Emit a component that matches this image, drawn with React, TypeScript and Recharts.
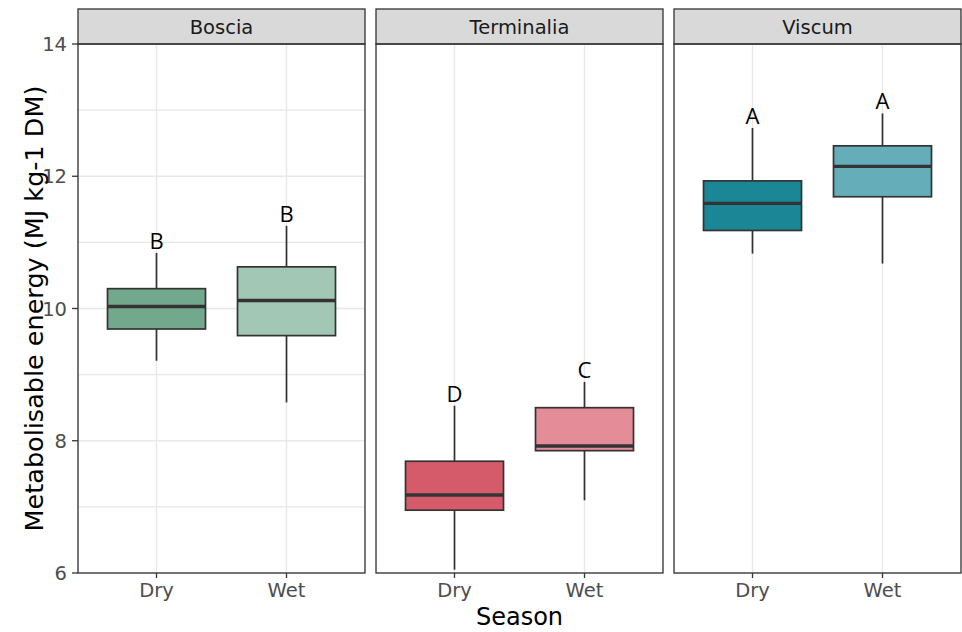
import React from "react";
import { ComposedChart, Bar, XAxis, YAxis, CartesianGrid } from "recharts";

const species = ["Boscia", "Terminalia", "Viscum"];
const seasons = ["Dry", "Wet"];
// one row per species, [Dry, Wet]
const whiskerLow = [[9.21, 8.58], [6.05, 7.1], [10.83, 10.68]];
const lowerQuartile = [[9.69, 9.59], [6.95, 7.85], [11.18, 11.69]];
const medians = [[10.03, 10.12], [7.18, 7.92], [11.59, 12.15]];
const upperQuartile = [[10.3, 10.63], [7.69, 8.5], [11.93, 12.46]];
const whiskerHigh = [[10.84, 11.25], [8.53, 8.89], [12.73, 12.95]];
const letters = [["B", "B"], ["D", "C"], ["A", "A"]];
const yTicks = [6, 7, 8, 9, 10, 11, 12, 13, 14];

const fills = [
  ["#72A98C", "#A3C7B5"],
  ["#D65B6A", "#E48D99"],
  ["#1A8696", "#65AEB9"],
];

const W = 962;
const H = 632;
const PANEL_LEFT = [78, 376, 674];
const PANEL_W = 287;
const PANEL_TOP = 44;
const PANEL_BOTTOM = 573;
const STRIP_TOP = 9;
const FONT = "DejaVu Sans";

const buildRows = (s: number) =>
  seasons.map((season, j) => ({
    season,
    range: [whiskerLow[s][j], whiskerHigh[s][j]],
    lo: whiskerLow[s][j],
    q1: lowerQuartile[s][j],
    med: medians[s][j],
    q3: upperQuartile[s][j],
    hi: whiskerHigh[s][j],
    letter: letters[s][j],
    color: fills[s][j],
  }));

const BoxShape = (props: any) => {
  const { x, y, width, height, payload } = props;
  if (!payload) return <g />;
  const top = Math.min(y, y + height);
  const bottom = Math.max(y, y + height);
  const k = (bottom - top) / (payload.hi - payload.lo);
  const py = (v: number) => bottom - (v - payload.lo) * k;
  const cx = x + width / 2;
  const yq3 = py(payload.q3);
  const yq1 = py(payload.q1);
  const ym = py(payload.med);
  return (
    <g>
      <line x1={cx} x2={cx} y1={top} y2={yq3} stroke="#333333" strokeWidth={1.7} />
      <line x1={cx} x2={cx} y1={yq1} y2={bottom} stroke="#333333" strokeWidth={1.7} />
      <rect
        x={x}
        y={yq3}
        width={width}
        height={yq1 - yq3}
        fill={payload.color}
        stroke="#333333"
        strokeWidth={1.7}
      />
      <line x1={x} x2={x + width} y1={ym} y2={ym} stroke="#333333" strokeWidth={3.4} />
      <text
        x={cx}
        y={top - 4}
        textAnchor="middle"
        fontSize={22}
        fontFamily="Open Sans"
        fill="#000000"
      >
        {payload.letter}
      </text>
    </g>
  );
};

const YTick = (props: any) => {
  const { x, y, payload } = props;
  if (payload.value % 2 !== 0) return <g />;
  return (
    <g>
      <line x1={x + 5} x2={x + 11} y1={y} y2={y} stroke="#333333" strokeWidth={1.3} />
      <text
        x={x}
        y={y}
        dy="0.36em"
        textAnchor="end"
        fill="#4D4D4D"
        fontSize={19.5}
        fontFamily={FONT}
      >
        {payload.value}
      </text>
    </g>
  );
};

const Facet = ({ index }: { index: number }) => {
  const first = index === 0;
  const chartLeft = first ? 0 : PANEL_LEFT[index];
  const chartW = first ? PANEL_LEFT[0] + PANEL_W : PANEL_W;
  return (
    <ComposedChart
      width={chartW}
      height={H}
      data={buildRows(index)}
      margin={{ top: PANEL_TOP, right: 0, bottom: H - PANEL_BOTTOM - 30, left: 0 }}
      style={{ position: "absolute", left: chartLeft, top: 0 }}
    >
      <CartesianGrid stroke="#E8E8E8" strokeWidth={1.4} />
      <XAxis
        dataKey="season"
        padding={{ left: 13.5, right: 13.5 }}
        height={30}
        interval={0}
        axisLine={false}
        tickSize={5}
        tickMargin={5}
        tickLine={{ stroke: "#333333", strokeWidth: 1.3 }}
        tick={{ fill: "#4D4D4D", fontSize: 19.5, fontFamily: FONT }}
      />
      <YAxis
        type="number"
        domain={[6, 14]}
        ticks={yTicks}
        interval={0}
        width={first ? PANEL_LEFT[0] : 0}
        axisLine={false}
        tickLine={false}
        tickSize={6}
        tickMargin={5}
        tick={first ? <YTick /> : false}
      />
      <Bar dataKey="range" barSize={98} shape={<BoxShape />} isAnimationActive={false} />
    </ComposedChart>
  );
};

export default function App() {
  return (
    <div
      style={{
        position: "absolute",
        left: 0,
        top: 0,
        width: W,
        height: H,
        background: "#FFFFFF",
        overflow: "hidden",
      }}
    >
      {species.map((_, i) => (
        <Facet key={i} index={i} />
      ))}
      <svg
        width={W}
        height={H}
        style={{ position: "absolute", left: 0, top: 0, pointerEvents: "none" }}
      >
        {species.map((name, i) => (
          <g key={name}>
            <rect
              x={PANEL_LEFT[i]}
              y={STRIP_TOP}
              width={PANEL_W}
              height={PANEL_TOP - STRIP_TOP}
              fill="#D9D9D9"
              stroke="#333333"
              strokeWidth={1.3}
            />
            <text
              x={PANEL_LEFT[i] + PANEL_W / 2}
              y={(STRIP_TOP + PANEL_TOP) / 2}
              dy="0.36em"
              textAnchor="middle"
              fontSize={19.5}
              fontFamily={FONT}
              fill="#1A1A1A"
            >
              {name}
            </text>
            <rect
              x={PANEL_LEFT[i]}
              y={PANEL_TOP}
              width={PANEL_W}
              height={PANEL_BOTTOM - PANEL_TOP}
              fill="none"
              stroke="#333333"
              strokeWidth={1.3}
            />
          </g>
        ))}
        <text
          x={PANEL_LEFT[1] + PANEL_W / 2}
          y={625}
          textAnchor="middle"
          fontSize={24}
          fontFamily={FONT}
          fill="#000000"
        >
          Season
        </text>
        <text
          transform={`translate(34, ${(PANEL_TOP + PANEL_BOTTOM) / 2}) rotate(-90)`}
          textAnchor="middle"
          dy="0.36em"
          fontSize={25.5}
          fontFamily={FONT}
          fill="#000000"
        >
          Metabolisable energy (MJ kg-1 DM)
        </text>
      </svg>
    </div>
  );
}
